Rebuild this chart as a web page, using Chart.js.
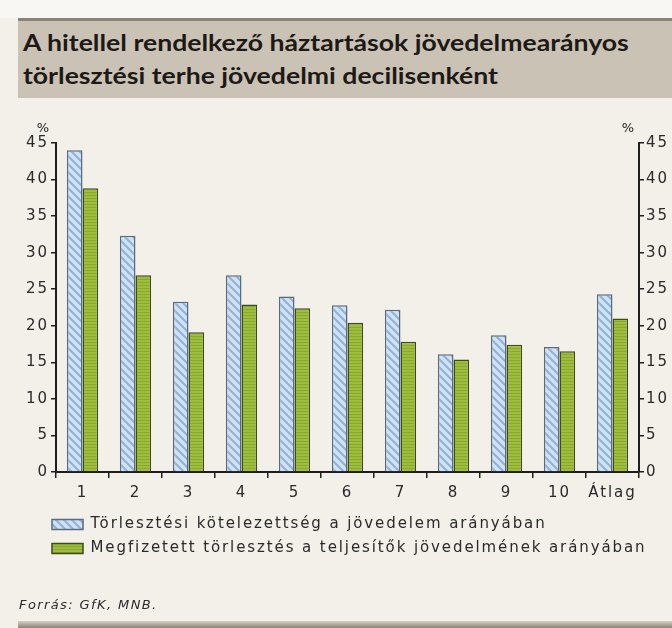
<!DOCTYPE html>
<html><head><meta charset="utf-8">
<script src="https://cdn.jsdelivr.net/npm/chart.js@4"></script>
<style>
html,body{margin:0;padding:0;}
body{width:672px;height:628px;background:#f3f0ea;position:relative;overflow:hidden;}
#topband{position:absolute;left:0;top:0;width:672px;height:18px;background:#f8f7f4;}
#title{position:absolute;left:18px;top:18px;width:654px;height:80px;background:#cbc2b6;border-top:3px solid #8c8377;box-sizing:border-box;z-index:2;}
#title div{position:absolute;left:5px;font-family:Lato,sans-serif;font-weight:bold;font-size:22px;color:#1d1a16;white-space:nowrap;transform:scaleX(1.21);transform-origin:0 50%;}
#src{position:absolute;left:19px;top:597px;font-family:"DejaVu Sans",sans-serif;font-style:italic;font-size:13px;letter-spacing:1.4px;color:#2a2a2a;z-index:2;}
#bottombar{position:absolute;left:18px;top:621px;width:654px;height:7px;background:linear-gradient(#d6d0c6,#8a8276);z-index:2;}
#c{position:absolute;left:0;top:0;z-index:1;}
</style>
</head><body>
<div id="topband"></div>
<div id="title"><div style="top:8px">A hitellel rendelkező háztartások jövedelmearányos</div><div style="top:41px">törlesztési terhe jövedelmi decilisenként</div></div>
<canvas id="c" width="672" height="628"></canvas>
<div id="src">Forrás: GfK, MNB.</div>
<div id="bottombar"></div>
<script>
const categories = ['1','2','3','4','5','6','7','8','9','10','Átlag'];
const obligation = [44.0,32.3,23.3,26.9,24.0,22.8,22.2,16.1,18.7,17.1,24.3];
const paid = [38.8,26.9,19.1,22.9,22.4,20.4,17.8,15.4,17.4,16.5,21.0];
const seriesNames = ['Törlesztési kötelezettség a jövedelem arányában','Megfizetett törlesztés a teljesítők jövedelmének arányában'];
const yMin = 0, yMax = 45, yStep = 5;

function bluePattern(){
  const c = document.createElement('canvas'); c.width = 8; c.height = 8;
  const x = c.getContext('2d');
  x.fillStyle = '#cfe2f6'; x.fillRect(0,0,8,8);
  x.strokeStyle = '#92b2d6'; x.lineWidth = 2.2;
  x.beginPath();
  x.moveTo(-2,-2); x.lineTo(10,10);
  x.moveTo(-10,-2); x.lineTo(2,10);
  x.moveTo(6,-2); x.lineTo(18,10);
  x.stroke();
  return x.createPattern(c,'repeat');
}
function greenPattern(){
  const c = document.createElement('canvas'); c.width = 4; c.height = 3;
  const x = c.getContext('2d');
  x.fillStyle = '#9dbd3b'; x.fillRect(0,0,4,3);
  x.fillStyle = '#88a830'; x.fillRect(0,0,4,1);
  return x.createPattern(c,'repeat');
}

const axisColor = '#1e1e1e';
const tickFont = {family:'"DejaVu Sans", sans-serif', size:15};
const SPACING = '1.9px';

const pctPlugin = {
  id:'pct',
  beforeUpdate(chart){ chart.ctx.letterSpacing = SPACING; },
  beforeDraw(chart){ chart.ctx.letterSpacing = SPACING; },
  afterLayout(chart){
    if (chart.legend) { chart.legend.left = 43; }
  },
  afterDraw(chart){
    const ctx = chart.ctx; const a = chart.chartArea;
    ctx.save();
    ctx.letterSpacing = '0px';
    ctx.fillStyle = '#222'; ctx.font = '13px "DejaVu Sans", sans-serif';
    ctx.textAlign = 'center'; ctx.textBaseline = 'middle';
    ctx.fillText('%', a.left - 13, a.top - 14);
    ctx.fillText('%', a.right - 11, a.top - 14);
    ctx.restore();
  }
};

const yScale = (pos) => ({
  type:'linear', position:pos, min:yMin, max:yMax,
  ticks:{stepSize:yStep, color:'#2a2a2a', font:tickFont, padding:2},
  grid:{display:true, drawOnChartArea:false, drawTicks:true, tickLength:5, color:axisColor, lineWidth:1.5},
  border:{display:true, color:axisColor, width:2},
  afterFit(s){ s.width = pos === 'left' ? 56 : 33; }
});

new Chart(document.getElementById('c'), {
  type:'bar',
  data:{
    labels:categories,
    datasets:[
      {label:seriesNames[0], data:obligation, backgroundColor:bluePattern(), borderColor:'#5a6b7c', borderWidth:1.5, yAxisID:'y'},
      {label:seriesNames[1], data:paid, backgroundColor:greenPattern(), borderColor:'#3d4b1f', borderWidth:1.5, yAxisID:'y'}
    ]
  },
  options:{
    responsive:false, animation:false, devicePixelRatio:1,
    layout:{padding:{top:143, left:0, right:0, bottom:62}},
    datasets:{bar:{categoryPercentage:0.59, barPercentage:1.0}},
    plugins:{
      legend:{position:'bottom', align:'start',
        labels:{boxWidth:31, boxHeight:10, padding:9, color:'#2a2a2a', font:{family:'"DejaVu Sans", sans-serif', size:15}}},
      tooltip:{enabled:false}
    },
    scales:{
      x:{
        offset:true,
        ticks:{color:'#2a2a2a', font:tickFont, padding:6, maxRotation:0, autoSkip:false},
        grid:{display:true, offset:true, drawOnChartArea:false, drawTicks:true, tickLength:6, color:axisColor, lineWidth:1.5},
        border:{display:true, color:axisColor, width:2}
      },
      y:yScale('left'),
      y2:yScale('right')
    }
  },
  plugins:[pctPlugin]
});
</script>
</body></html>
